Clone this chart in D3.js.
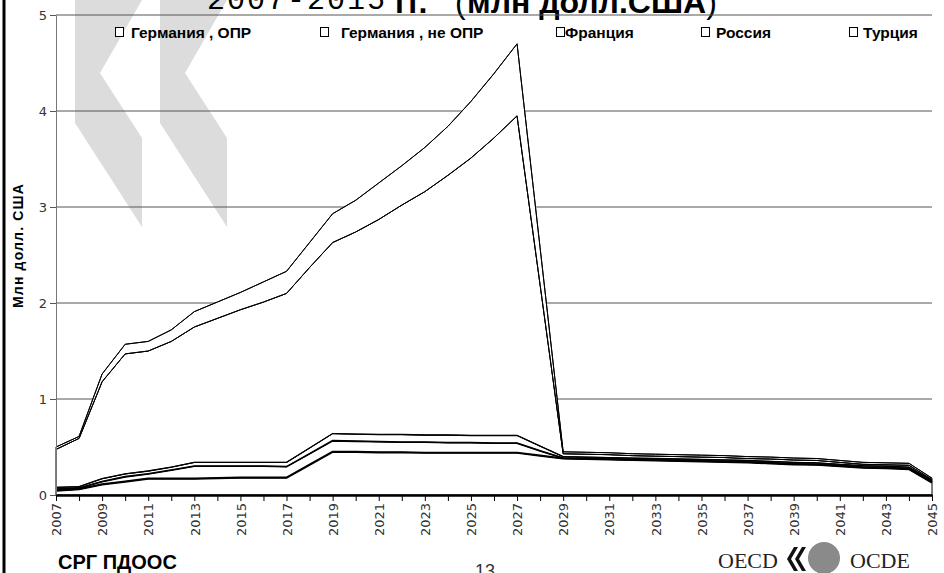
<!doctype html>
<html>
<head>
<meta charset="utf-8">
<title>Германия, Франция, Россия, Турция</title>
<style>
  body { margin:0; background:#fff; }
  svg { display:block; }
  .axis text { font-family:"DejaVu Sans", Verdana, sans-serif; font-size:13px; fill:#333; }
  .legend text { font-family:"Liberation Sans", Arial, sans-serif; font-size:15.5px; font-weight:bold; }
</style>
<script src="https://cdn.jsdelivr.net/npm/d3@7"></script>
</head>
<body>
<svg id="chart" width="944" height="573"></svg>
<script>

// годы (категории)
var years = [2007,2008,2009,2010,2011,2012,2013,2014,2015,2016,2017,2018,2019,2020,2021,2022,2023,
             2024,2025,2026,2027,2028,2029,2030,2031,2032,2033,2034,2035,2036,2037,2038,2039,2040,
             2041,2042,2043,2044,2045]

var names = ["Германия , ОПР", "Германия , не ОПР", "Франция", "Россия", "Турция"]

// млн долл. США, по рядам (накопление снизу вверх)
var germanyOda = [0.045,0.06,0.11,0.14,0.17,0.17,0.17,0.175,0.18,0.18,0.18,0.315,0.45,0.45,0.445,0.445,0.44,
                  0.44,0.44,0.44,0.44,0.41,0.38,0.375,0.37,0.365,0.36,0.355,0.35,0.345,0.34,0.33,0.32,0.315,
                  0.30,0.285,0.28,0.27,0.13]
var germanyNonOda = [0.015,0.013,0.03,0.05,0.05,0.09,0.13,0.125,0.12,0.12,0.115,0.115,0.115,0.11,0.11,0.105,0.11,
                     0.105,0.105,0.10,0.10,0.05,0.005,0.005,0.005,0.005,0.005,0.005,0.005,0.005,0.005,0.005,
                     0.005,0.005,0.005,0.005,0.005,0.005,0.005]
var france = [0.02,0.014,0.03,0.03,0.03,0.03,0.04,0.04,0.04,0.04,0.045,0.06,0.075,0.075,0.075,0.08,0.075,
              0.08,0.075,0.08,0.08,0.05,0.015,0.015,0.015,0.015,0.015,0.015,0.015,0.015,0.015,0.015,
              0.015,0.015,0.015,0.015,0.015,0.015,0.015]
var russia = [0.395,0.503,1.01,1.25,1.25,1.31,1.41,1.50,1.59,1.67,1.76,1.88,1.99,2.105,2.24,2.39,2.535,
              2.705,2.89,3.10,3.33,1.68,0.03,0.03,0.03,0.025,0.025,0.025,0.025,0.025,0.02,0.025,0.025,
              0.025,0.02,0.015,0.015,0.02,0.01]
var turkey = [0.025,0.02,0.08,0.10,0.10,0.12,0.16,0.17,0.18,0.21,0.23,0.26,0.30,0.33,0.38,0.41,0.46,
              0.51,0.59,0.67,0.75,0.385,0.02,0.02,0.02,0.02,0.02,0.02,0.02,0.02,0.02,0.02,0.02,0.02,
              0.02,0.02,0.02,0.02,0.015]

var yTicks = [0,1,2,3,4,5]

var seriesValues = [germanyOda, germanyNonOda, france, russia, turkey]
var keys = ["s0","s1","s2","s3","s4"]
var rows = years.map(function(yr, i) {
  var r = { year: yr }
  keys.forEach(function(k, j) { r[k] = seriesValues[j][i] })
  return r
})

var svg = d3.select("#chart")

// фон: шевроны ОЭСР
var chevron = function(x0) {
  return [[x0,0],[x0+67,0],[x0+25,73],[x0+67,138],[x0+67,227],[x0,123]]
}
svg.selectAll("polygon.wm")
   .data([chevron(75), chevron(160)])
   .enter().append("polygon")
   .attr("class", "wm")
   .attr("points", function(d){ return d.map(function(p){ return p.join(","); }).join(" "); })
   .attr("fill", "#dcdcdc")

// рамка слайда слева
svg.append("line").attr("x1",4).attr("x2",4).attr("y1",0).attr("y2",573)
   .attr("stroke","#000").attr("stroke-width",3)

// заголовок (обрезан сверху)
var title = svg.append("text").attr("y", 9)
title.append("tspan").attr("x", 207)
     .style("font-family","'Liberation Mono', monospace").style("font-size","30px")
     .style("letter-spacing","2px").text("2007-2015")
title.append("tspan").attr("x", 395).attr("y", 13)
     .style("font-family","'Liberation Sans', Arial").style("font-size","32px").style("font-weight","bold")
     .text("гг.")
title.append("tspan").attr("x", 455)
     .style("font-family","'Liberation Sans', Arial").style("font-size","32px").text("(")
title.append("tspan").attr("x", 467)
     .style("font-family","'Liberation Sans', Arial").style("font-size","32px").style("font-weight","bold")
     .text("млн долл.США")
title.append("tspan")
     .style("font-family","'Liberation Sans', Arial").style("font-size","32px").text(")")

var x = d3.scaleLinear().domain([2007, 2045]).range([56, 932])
var y = d3.scaleLinear().domain([0, 5]).range([495, 15])

// сетка
svg.append("g").selectAll("line")
   .data(yTicks.filter(function(d){ return d > 0; }))
   .enter().append("line")
   .attr("x1", 56).attr("x2", 932)
   .attr("y1", function(d){ return y(d); }).attr("y2", function(d){ return y(d); })
   .attr("stroke", "#555").attr("stroke-width", 1)

// накопленные области
var stacked = d3.stack().keys(keys)(rows)

var area = d3.area()
  .x(function(d){ return x(d.data.year); })
  .y0(function(d){ return y(d[0]); })
  .y1(function(d){ return y(d[1]); })

svg.append("g").selectAll("path")
   .data(stacked)
   .enter().append("path")
   .attr("d", area)
   .attr("fill", "#fff")
   .attr("stroke", "#000")
   .attr("stroke-width", 1)

var line = d3.line()
  .x(function(d){ return x(d.data.year); })
  .y(function(d){ return y(d[1]); })

var widths = [2.2, 1.8, 1.3, 1, 1]
svg.append("g").selectAll("path")
   .data(stacked)
   .enter().append("path")
   .attr("d", line)
   .attr("fill", "none")
   .attr("stroke", "#000")
   .attr("stroke-width", function(d,i){ return widths[i]; })

// оси
var yAxis = svg.append("g")
   .attr("class", "axis")
   .attr("transform", "translate(56,0)")
   .call(d3.axisLeft(y).tickValues(yTicks).tickSize(6).tickSizeOuter(0).tickFormat(d3.format("d")))
yAxis.select(".domain").attr("stroke", "#777")
yAxis.selectAll(".tick line").attr("stroke", "#555")
yAxis.selectAll("text").attr("x", -9)

var xAxis = svg.append("g")
   .attr("class", "axis")
   .attr("transform", "translate(0,495)")
   .call(d3.axisBottom(x).tickValues(years).tickSize(6).tickSizeOuter(0)
          .tickFormat(function(d){ return (d - 2007) % 2 === 0 ? d : ""; }))
xAxis.select(".domain").attr("stroke", "#000").attr("stroke-width", 2.5)
xAxis.selectAll(".tick line").attr("stroke", "#000")
xAxis.selectAll("text")
     .attr("transform", "rotate(-90)")
     .attr("x", -8).attr("y", 0).attr("dy", "0.36em")
     .style("text-anchor", "end")

// подпись оси Y
svg.append("text")
   .attr("transform", "translate(23,246) rotate(-90)")
   .attr("text-anchor", "middle")
   .attr("textLength", 124).attr("lengthAdjust", "spacing")
   .style("font-family", "'Liberation Sans', Arial").style("font-size", "14px").style("font-weight", "bold")
   .text("Млн долл. США")

// легенда
var legendBox = [115, 320, 556, 701, 849]
var legendText = [131, 341, 565, 716, 863]
var legend = svg.append("g").attr("class", "legend")
legend.selectAll("rect")
   .data(names)
   .enter().append("rect")
   .attr("x", function(d,i){ return legendBox[i] + 0.5; })
   .attr("y", 27.5).attr("width", 8).attr("height", 9)
   .attr("fill", "#fff").attr("stroke", "#000")
legend.selectAll("text")
   .data(names)
   .enter().append("text")
   .attr("x", function(d,i){ return legendText[i]; })
   .attr("y", 37.5)
   .text(function(d){ return d; })

// подвал слайда
svg.append("text").attr("x", 58).attr("y", 569)
   .style("font-family","'Liberation Sans', Arial").style("font-size","20px").style("font-weight","bold")
   .text("СРГ ПДООС")
svg.append("text").attr("x", 475).attr("y", 577)
   .style("font-family","'Liberation Sans', Arial").style("font-size","18px").attr("fill","#333")
   .text("13")

svg.append("text").attr("x", 718).attr("y", 568)
   .style("font-family","'Liberation Serif', serif").style("font-size","22px").attr("fill","#222")
   .text("OECD")
var chev = function(x0) {
  return [[x0+7,547],[x0+11,547],[x0+4,559],[x0+11,571],[x0+7,571],[x0,559]]
}
svg.selectAll("polygon.logo")
   .data([chev(787), chev(795)])
   .enter().append("polygon")
   .attr("class", "logo")
   .attr("points", function(d){ return d.map(function(p){ return p.join(","); }).join(" "); })
   .attr("fill", "#111")
svg.append("circle").attr("cx", 824).attr("cy", 558).attr("r", 16).attr("fill", "#8a8a8a")
svg.append("text").attr("x", 850).attr("y", 568)
   .style("font-family","'Liberation Serif', serif").style("font-size","22px").attr("fill","#222")
   .text("OCDE")

</script>
</body>
</html>
